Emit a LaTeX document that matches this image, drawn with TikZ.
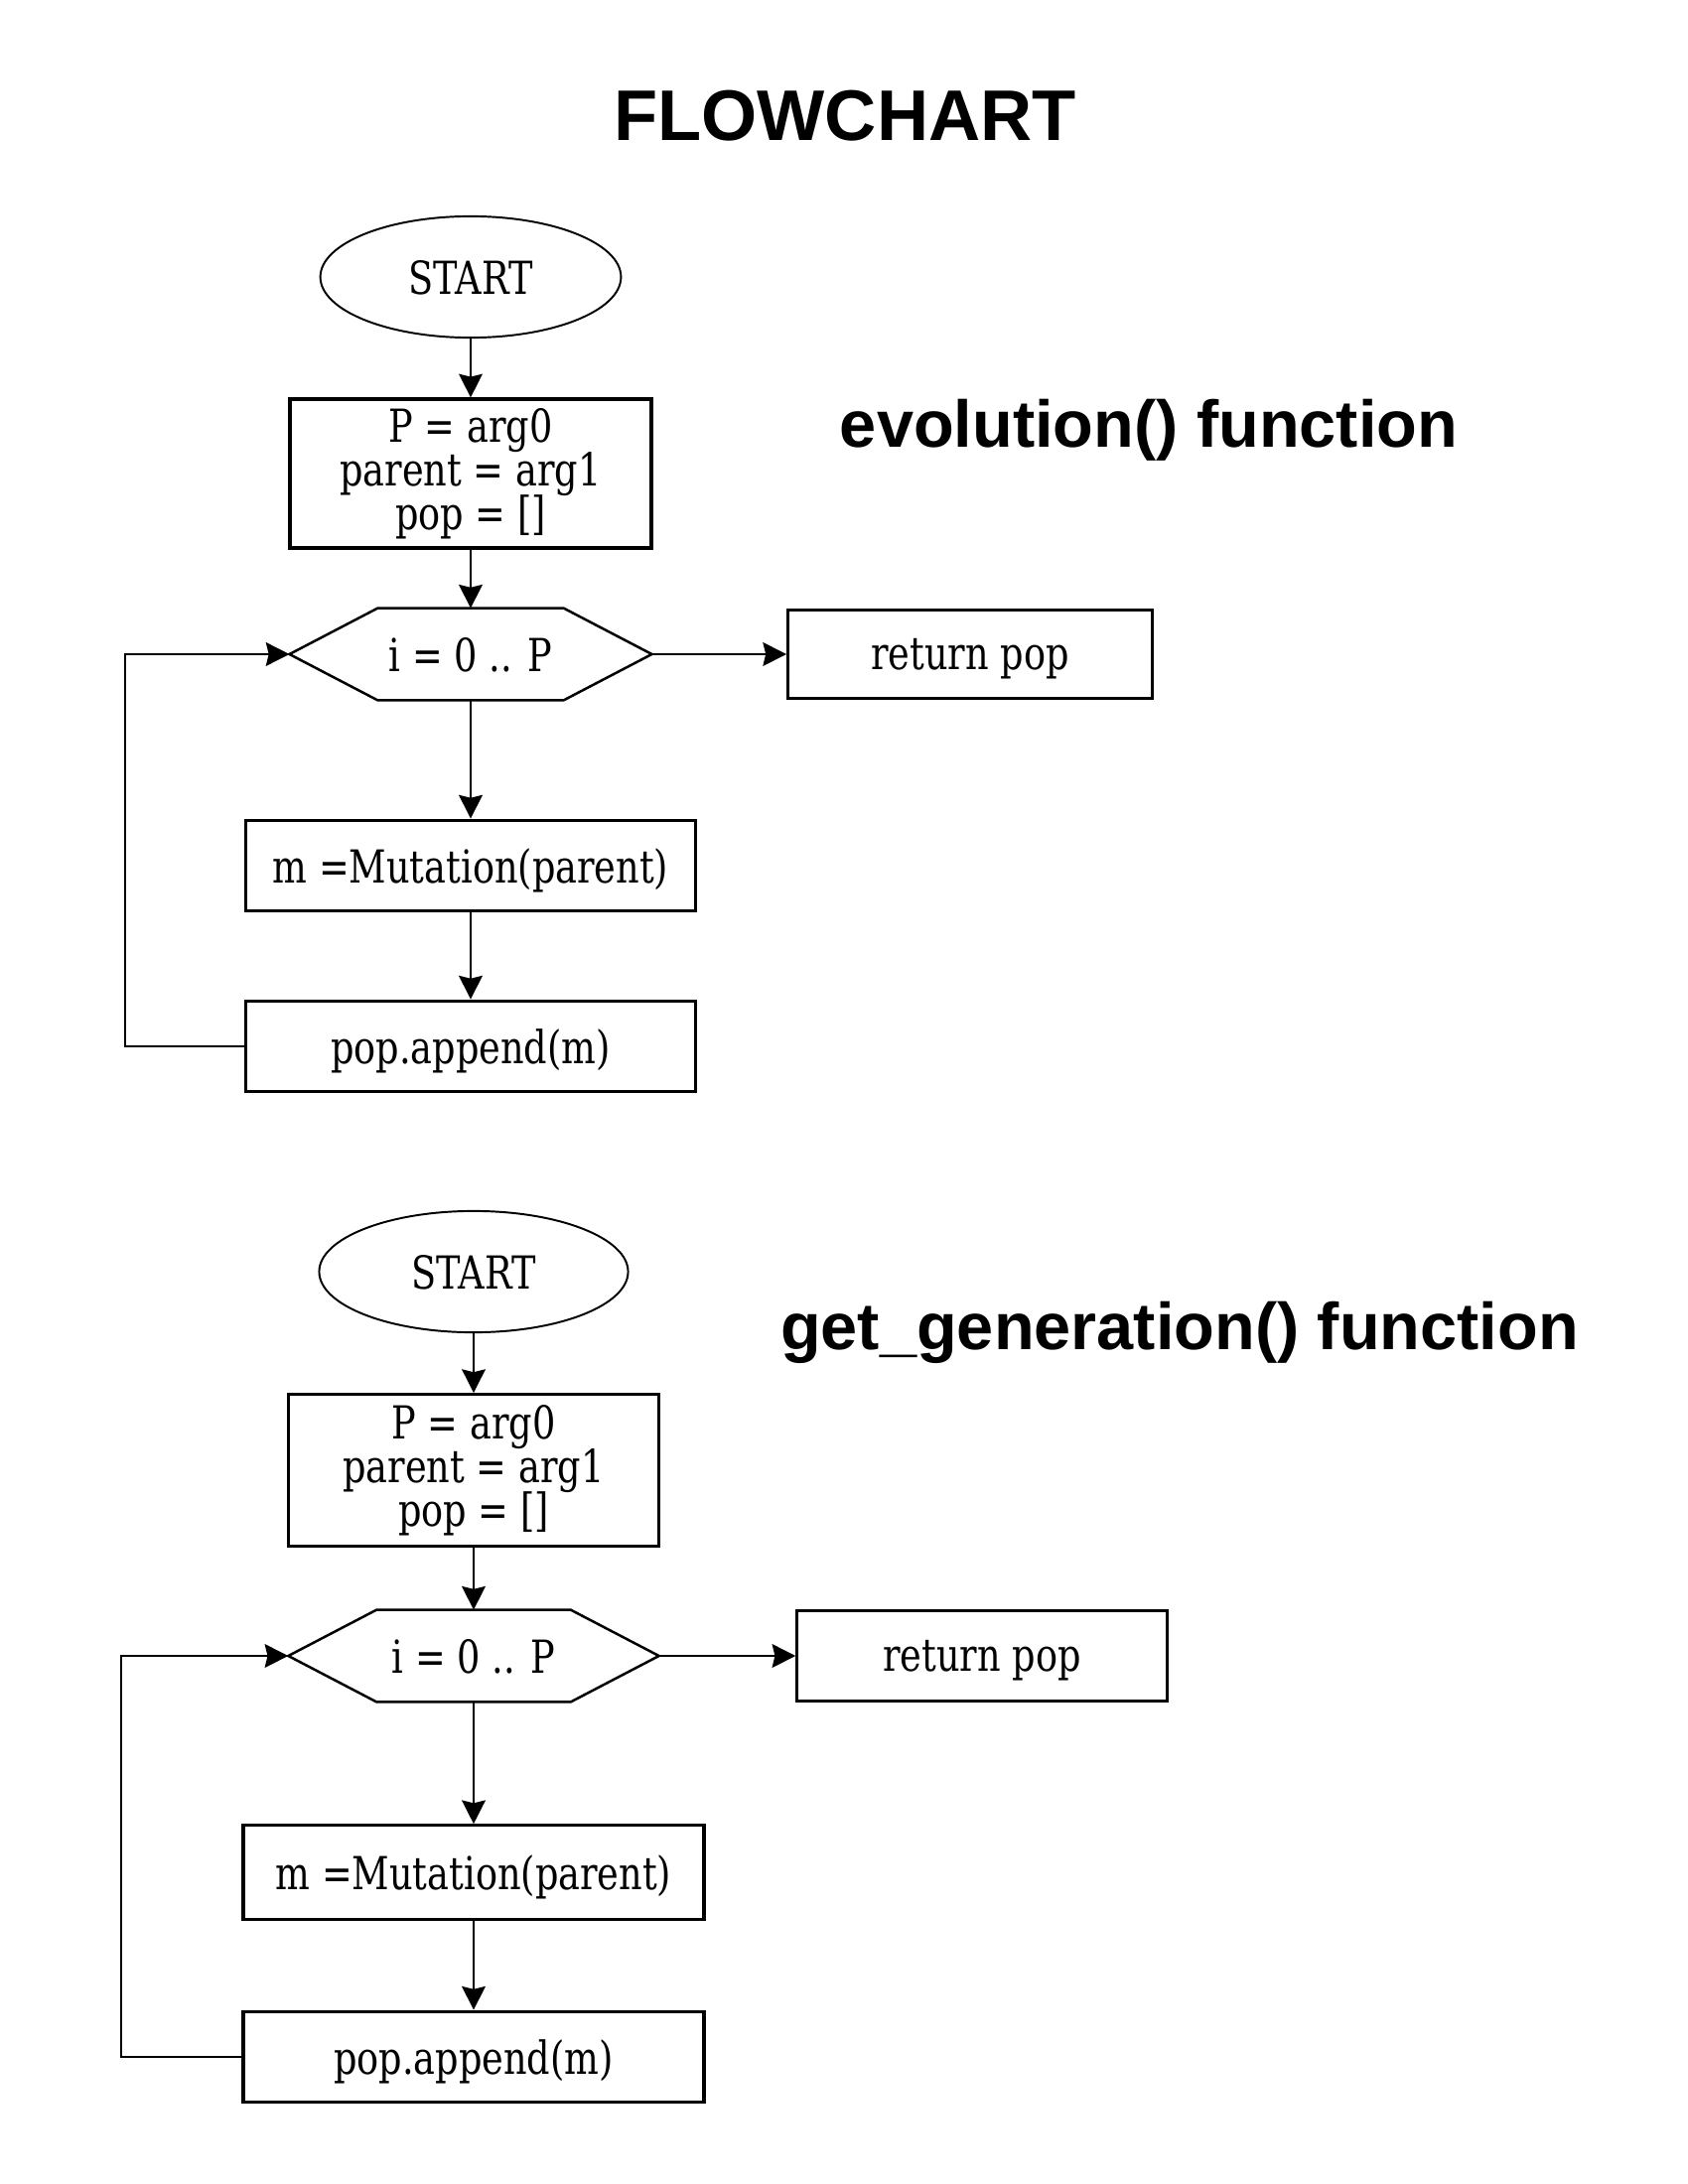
\documentclass[tikz,border=0pt]{standalone}
\usepackage{fontspec}
\setmainfont{Liberation Sans}
\newfontfamily\boxfont{DejaVu Serif}[FakeStretch=0.8]
\usetikzlibrary{shapes.geometric,arrows.meta}
\setlength{\lineskiplimit}{-10pt}

\tikzset{
  boxtext/.style={font=\boxfont\fontsize{16.5}{16}\selectfont},
  box/.style={boxtext,draw,line width=1.15pt,inner sep=0pt,text depth=0pt},
  initbox/.style={draw,line width=1.15pt,inner sep=0pt,align=center,
    font=\boxfont\fontsize{16.5}{15.9}\selectfont},
  startnode/.style={boxtext,ellipse,draw,line width=0.7pt,inner sep=0pt,text depth=0pt},
  loopnode/.style={boxtext,inner sep=0pt,text depth=0pt},
  flow/.style={line width=1pt,-{Stealth[length=8.5pt,width=8.5pt,inset=1pt]}},
  heading/.style={font=\bfseries\fontsize{24}{28}\selectfont,anchor=base},
}
% hexagon outline round an invisible loop node
\newcommand{\hexoutline}[1]{%
  \draw[line width=0.9pt,line join=miter] (#1.west) -- ([xshift=32pt]#1.north west)
    -- ([xshift=-32pt]#1.north east) -- (#1.east)
    -- ([xshift=-32pt]#1.south east) -- ([xshift=32pt]#1.south west) -- cycle;}

\begin{document}
\begin{tikzpicture}[x=0.36pt,y=-0.36pt]
  \useasboundingbox (0,0) rectangle (1700,2200);
  \node[heading,font=\bfseries\fontsize{26}{30}\selectfont] (title) at (851,142) {FLOWCHART};

  % evolution()
  \node[heading] (evo) at (1157,450) {evolution() function};
  \node[startnode,minimum width=109pt,minimum height=44pt] (start1) at (474,279) {START};
  \node[initbox,minimum width=131pt,minimum height=54pt] (init1) at (474,477) {P = arg0\\parent = arg1\\pop = []};
  \node[loopnode,minimum width=131pt,minimum height=33pt] (hex1) at (474,659) {i = 0 .. P};
  \hexoutline{hex1}
  \node[box,minimum width=132pt,minimum height=32pt] (ret1) at (977,659) {return pop};
  \node[box,minimum width=163pt,minimum height=33pt] (mut1) at (474,872) {m =Mutation(parent)};
  \node[box,minimum width=163pt,minimum height=33pt] (app1) at (474,1054) {pop.append(m)};
  \coordinate (loop1) at (126,659);
  \draw[flow] (start1) -- (init1);
  \draw[flow] (init1) -- (hex1);
  \draw[flow] (hex1.east) -- (ret1.west);
  \draw[flow] (hex1) -- (mut1);
  \draw[flow] (mut1) -- (app1);
  \draw[flow] (app1.west) -| (loop1) -- (hex1.west);

  % get_generation()
  \node[heading] (gen) at (1188,1359) {get\_generation() function};
  \node[startnode,minimum width=112pt,minimum height=44pt] (start2) at (477,1281) {START};
  \node[initbox,minimum width=134pt,minimum height=55pt] (init2) at (477,1481) {P = arg0\\parent = arg1\\pop = []};
  \node[loopnode,minimum width=134pt,minimum height=33pt] (hex2) at (477,1668) {i = 0 .. P};
  \hexoutline{hex2}
  \node[box,minimum width=134pt,minimum height=33pt] (ret2) at (989,1668) {return pop};
  \node[box,minimum width=167pt,minimum height=34pt] (mut2) at (477,1886) {m =Mutation(parent)};
  \node[box,minimum width=167pt,minimum height=33pt] (app2) at (477,2072) {pop.append(m)};
  \coordinate (loop2) at (122,1668);
  \draw[flow] (start2) -- (init2);
  \draw[flow] (init2) -- (hex2);
  \draw[flow] (hex2.east) -- (ret2.west);
  \draw[flow] (hex2) -- (mut2);
  \draw[flow] (mut2) -- (app2);
  \draw[flow] (app2.west) -| (loop2) -- (hex2.west);
\end{tikzpicture}
\end{document}
